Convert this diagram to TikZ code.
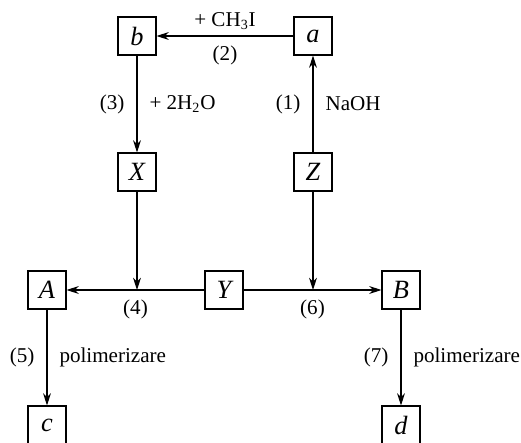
\documentclass[tikz,border=0pt]{standalone}
\usepackage{fontspec}
\setmainfont{Liberation Serif}
\usetikzlibrary{arrows.meta,positioning}

\begin{document}
\begin{tikzpicture}[
    x=0.02cm, y=-0.02cm,
    >={Stealth[length=7pt,width=4.5pt]},
    font=\fontsize{12}{14}\selectfont,
    box/.style={rectangle, draw, line width=0.6pt, minimum size=0.76cm,
                inner sep=0pt, font=\fontsize{15}{17}\selectfont\itshape},
    arr/.style={->, line width=0.6pt}
]
    \useasboundingbox (0,0) rectangle (521,443);

    \node[box] (b) at (137,36)  {b};
    \node[box] (a) at (313,36)  {a};
    \node[box] (X) at (137,172) {X};
    \node[box] (Z) at (313,172) {Z};
    \node[box] (A) at (47,290)  {A};
    \node[box] (Y) at (224,290) {Y};
    \node[box] (B) at (401,290) {B};
    \node[box] (c) at (47,425)  {c};
    \node[box] (d) at (401,425) {d};

    \coordinate (j4) at (X |- Y);
    \coordinate (j6) at (Z |- Y);

    \draw[arr] (a) -- node[above] {+ CH\textsubscript{3}I} node[below=2pt] {(2)} (b);
    \draw[arr] (b) -- node[left=3.5pt] {(3)} node[right=3.5pt] {+ 2H\textsubscript{2}O} (X);
    \draw[arr] (Z) -- node[left=3.5pt] {(1)} node[right=3.5pt] {NaOH} (a);
    \draw[arr] (X) -- (j4);
    \draw[arr] (Z) -- (j6);
    \draw[arr] (Y) -- node[below=2pt] {(4)} (A);
    \draw[arr] (Y) -- node[below=2pt] {(6)} (B);

    % polymerisation steps
    \draw[arr] (A) -- node[left=3.5pt] {(5)} node[right=3.5pt] {polimerizare} (c);
    \draw[arr] (B) -- node[left=3.5pt] {(7)} node[right=3.5pt] {polimerizare} (d);
\end{tikzpicture}
\end{document}
